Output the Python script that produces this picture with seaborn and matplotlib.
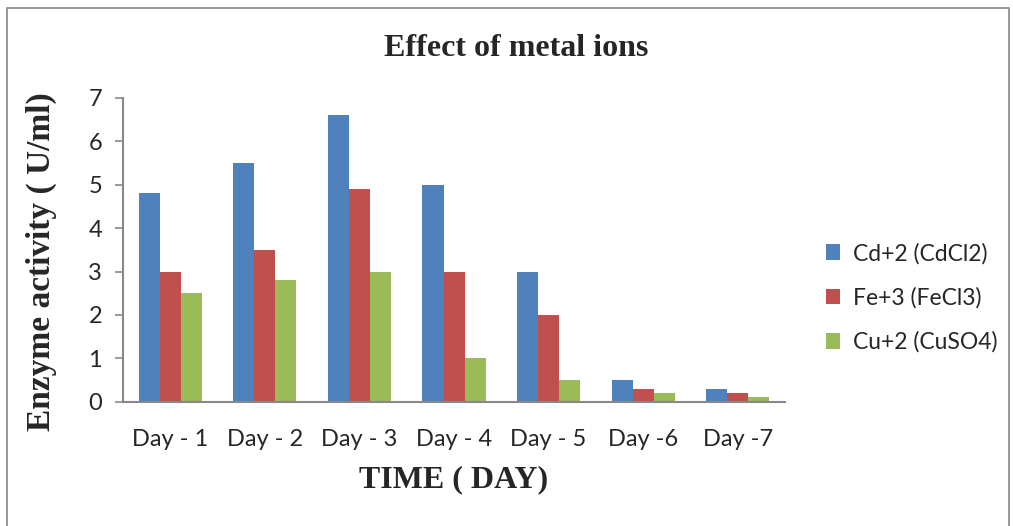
import matplotlib
matplotlib.use("Agg")
import matplotlib.pyplot as plt
import seaborn as sns
import pandas as pd
from matplotlib.patches import Rectangle

days = ["Day - 1", "Day - 2", "Day - 3", "Day - 4", "Day - 5", "Day -6", "Day -7"]
series = ["Cd+2 (CdCl2)", "Fe+3 (FeCl3)", "Cu+2 (CuSO4)"]
cd = [4.8, 5.5, 6.6, 5.0, 3.0, 0.5, 0.3]
fe = [3.0, 3.5, 4.9, 3.0, 2.0, 0.3, 0.2]
cu = [2.5, 2.8, 3.0, 1.0, 0.5, 0.2, 0.1]
colors = ["#4F81BD", "#C0504D", "#9BBB59"]

rows = []
for name, vals in zip(series, [cd, fe, cu]):
    for d, v in zip(days, vals):
        rows.append({"day": d, "series": name, "value": v})
df = pd.DataFrame(rows)

sns.set_style("white")
plt.rcParams["font.family"] = ["Lato", "DejaVu Sans"]

fig = plt.figure(figsize=(10.13, 5.26), dpi=100)
ax = fig.add_axes([0.1214, 0.2363, 0.775 - 0.1214, 0.8137 - 0.2363])
sns.barplot(data=df, x="day", y="value", hue="series", palette=colors,
            width=0.667, gap=0, ax=ax, errorbar=None, saturation=1, legend=True,
            linewidth=0)

ax.set_ylim(0, 7)
ax.set_yticks(range(0, 8))
ax.set_xlim(-0.5, 6.5)
ax.tick_params(axis="y", left=True, length=6, width=1.2, color="#888888", labelsize=17, pad=9)
ax.tick_params(axis="x", bottom=False, labelsize=17, pad=16)
for s in ["top", "right"]:
    ax.spines[s].set_visible(False)
for s in ["left", "bottom"]:
    ax.spines[s].set_color("#888888")
    ax.spines[s].set_linewidth(1.5)

ax.set_xlabel("TIME ( DAY)", family="Liberation Serif", fontweight="bold", fontsize=23, labelpad=11)
ax.set_ylabel("Enzyme activity ( U/ml)", family="Liberation Serif", fontweight="bold", fontsize=24)
ax.yaxis.set_label_coords(-0.1, 0.46)
fig.text(0.51, 0.907, "Effect of metal ions", family="Liberation Serif", fontweight="bold",
         fontsize=23, ha="center", va="center")

leg = ax.legend(loc="center left", bbox_to_anchor=(1.03, 0.342), frameon=False, fontsize=16.5,
                handlelength=0.65, handleheight=0.65, handletextpad=0.55, labelspacing=1.0)

fig.add_artist(Rectangle((7 / 1013, -0.02), (1009 - 7) / 1013, 1 - 8 / 526 + 0.02,
                         transform=fig.transFigure, fill=False, edgecolor="#888888", linewidth=1.2))

fig.savefig("out.png", dpi=100)
